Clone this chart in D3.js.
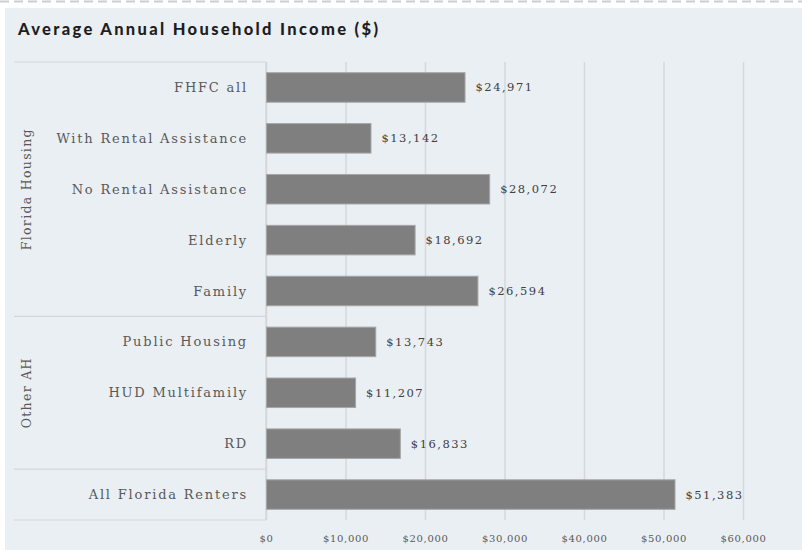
<!DOCTYPE html>
<html>
<head>
<meta charset="utf-8">
<script src="https://cdn.jsdelivr.net/npm/d3@7"></script>
<style>
  html, body { margin: 0; padding: 0; background: #ffffff; }
  svg { display: block; }
</style>
</head>
<body>
<svg id="chart" width="802" height="550"></svg>
<script>
// Average annual household income by housing program
const categories = [
  "FHFC all", "With Rental Assistance", "No Rental Assistance", "Elderly", "Family",
  "Public Housing", "HUD Multifamily", "RD", "All Florida Renters"
];
const incomes = [24971, 13142, 28072, 18692, 26594, 13743, 11207, 16833, 51383];
const groupNames = ["Florida Housing", "Other AH", ""];
const groupSizes = [5, 3, 1];
const tickValues = [0, 10000, 20000, 30000, 40000, 50000, 60000];

const W = 802, H = 550;
const plot = { left: 266, right: 743, top: 62, bottom: 520 };
const labelBoxLeft = 14;

const svg = d3.select("#chart");

// page and panel
svg.append("rect").attr("width", W).attr("height", H).attr("fill", "#ffffff");
svg.append("line")
  .attr("x1", 0).attr("x2", W).attr("y1", 1.5).attr("y2", 1.5)
  .attr("stroke", "#c9ced6").attr("stroke-width", 2).attr("stroke-dasharray", "9,5");
svg.append("rect")
  .attr("x", 5).attr("y", 8).attr("width", W - 5).attr("height", H - 8)
  .attr("fill", "#eaeff4");

svg.append("text")
  .attr("x", 18).attr("y", 35)
  .attr("font-family", "Lato, 'Open Sans', sans-serif")
  .attr("font-weight", 900).attr("font-size", 16.5)
  .attr("fill", "#1e1e1e")
  .attr("textLength", 360).attr("lengthAdjust", "spacing")
  .text("Average Annual Household Income ($)");

const x = d3.scaleLinear().domain([0, 60000]).range([plot.left, plot.right]);
const y = d3.scaleBand().domain(categories).range([plot.top, plot.bottom])
  .paddingInner(0.42).paddingOuter(0.21);

// vertical gridlines
const xAxis = d3.axisBottom(x).tickValues(tickValues)
  .tickSize(-(plot.bottom - plot.top))
  .tickFormat(d => "$" + d3.format(",")(d));
const gx = svg.append("g").attr("transform", `translate(0,${plot.bottom})`).call(xAxis);
gx.select(".domain").remove();
gx.selectAll(".tick line").attr("stroke", "#d6d8db").attr("stroke-width", 1.5);
gx.selectAll(".tick text")
  .attr("y", 15)
  .attr("font-family", "'DejaVu Serif', serif").attr("font-size", 10)
  .attr("letter-spacing", 0.7)
  .attr("fill", "#595959");

// category axis frame with group separators
const bandStep = y.step();
let start = 0;
const boundaries = [plot.top];
groupSizes.forEach(n => { start += n; boundaries.push(plot.top + start * bandStep); });
svg.append("g").selectAll("line").data(boundaries).join("line")
  .attr("x1", labelBoxLeft).attr("x2", plot.left)
  .attr("y1", d => d).attr("y2", d => d)
  .attr("stroke", "#d3d5d8").attr("stroke-width", 1.2);
svg.append("line")
  .attr("x1", plot.left).attr("x2", plot.left)
  .attr("y1", plot.top).attr("y2", plot.bottom)
  .attr("stroke", "#d3d5d8").attr("stroke-width", 1.2);

// group titles (rotated)
svg.append("g").selectAll("text").data(groupNames.map((g, i) => ({ g, i })).filter(d => d.g))
  .join("text")
  .attr("transform", d => {
    const cy = (boundaries[d.i] + boundaries[d.i + 1]) / 2;
    return `translate(31,${cy}) rotate(-90)`;
  })
  .attr("text-anchor", "middle")
  .attr("font-family", "'DejaVu Serif', serif").attr("font-size", 12.5)
  .attr("letter-spacing", 1.3)
  .attr("fill", "#595959")
  .text(d => d.g);

// category labels
svg.append("g").selectAll("text").data(categories).join("text")
  .attr("x", 248)
  .attr("y", d => y(d) + y.bandwidth() / 2)
  .attr("dy", "0.35em")
  .attr("text-anchor", "end")
  .attr("font-family", "'DejaVu Serif', serif").attr("font-size", 13)
  .attr("letter-spacing", 1.8)
  .attr("fill", "#595959")
  .text(d => d);

// bars
const rows = categories.map((c, i) => ({ c, v: incomes[i] }));
svg.append("g").selectAll("rect").data(rows).join("rect")
  .attr("x", x(0) + 0.5)
  .attr("y", d => y(d.c))
  .attr("width", d => x(d.v) - x(0))
  .attr("height", y.bandwidth())
  .attr("fill", "#7f7f7f")
  .attr("stroke", "#a6a6a6").attr("stroke-width", 1);

// value labels
svg.append("g").selectAll("text").data(rows).join("text")
  .attr("x", d => x(d.v) + 11)
  .attr("y", d => y(d.c) + y.bandwidth() / 2)
  .attr("dy", "0.35em")
  .attr("font-family", "'DejaVu Serif', serif").attr("font-size", 11.5)
  .attr("letter-spacing", 1.5)
  .attr("fill", "#404040")
  .text(d => "$" + d3.format(",")(d.v));
</script>
</body>
</html>
